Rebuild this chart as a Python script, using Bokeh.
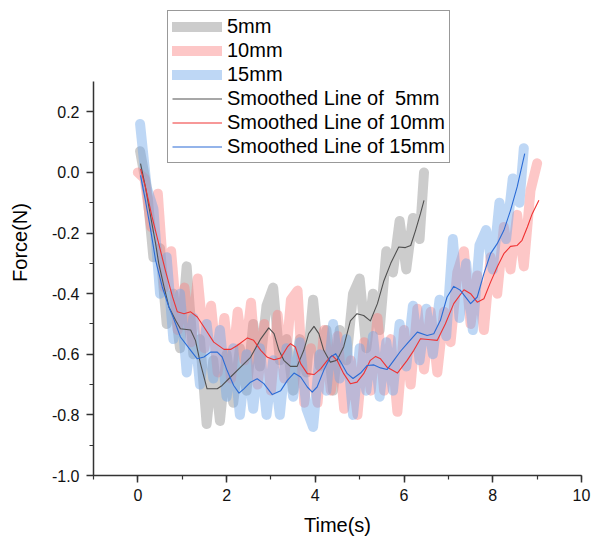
from bokeh.plotting import figure
from bokeh.models import Range1d, SingleIntervalTicker, PrintfTickFormatter, Legend, LegendItem
from bokeh.embed import file_html
from bokeh.resources import INLINE

# ---------------- data ----------------
t5 = [0.05, 0.20, 0.35, 0.50, 0.65, 0.80, 0.95, 1.10, 1.25, 1.40, 1.55, 1.70, 1.85, 2.00,
      2.15, 2.30, 2.45, 2.60, 2.75, 2.90, 3.05, 3.20, 3.35, 3.50, 3.65, 3.80, 3.95, 4.10,
      4.25, 4.40, 4.55, 4.70, 4.85, 5.00, 5.15, 5.30, 5.45, 5.60, 5.75, 5.90, 6.05, 6.20,
      6.35, 6.45]
f5 = [0.07, -0.05, -0.28, -0.25, -0.50, -0.40, -0.58, -0.31, -0.60, -0.55, -0.83, -0.62,
      -0.82, -0.60, -0.76, -0.58, -0.72, -0.50, -0.64, -0.44, -0.38, -0.62, -0.55, -0.72,
      -0.55, -0.66, -0.42, -0.64, -0.52, -0.72, -0.52, -0.62, -0.40, -0.35, -0.58, -0.40,
      -0.52, -0.26, -0.33, -0.16, -0.32, -0.15, -0.22, 0.00]

t10 = [0.00, 0.15, 0.30, 0.45, 0.60, 0.75, 0.90, 1.05, 1.20, 1.35, 1.50, 1.65, 1.80, 1.95,
       2.10, 2.25, 2.40, 2.55, 2.70, 2.85, 3.00, 3.15, 3.30, 3.45, 3.60, 3.75, 3.90, 4.05,
       4.20, 4.35, 4.50, 4.65, 4.80, 4.95, 5.10, 5.25, 5.40, 5.55, 5.70, 5.85, 6.00, 6.15,
       6.30, 6.45, 6.60, 6.75, 6.90, 7.05, 7.20, 7.35, 7.50, 7.65, 7.80, 7.95, 8.10, 8.25,
       8.40, 8.55, 8.70, 8.85, 9.00]
f10 = [0.00, -0.02, -0.18, -0.07, -0.38, -0.26, -0.52, -0.38, -0.56, -0.35, -0.58, -0.44,
       -0.66, -0.48, -0.68, -0.46, -0.62, -0.43, -0.70, -0.50, -0.72, -0.47, -0.68, -0.42,
       -0.39, -0.76, -0.58, -0.76, -0.52, -0.72, -0.54, -0.78, -0.62, -0.80, -0.56, -0.72,
       -0.48, -0.72, -0.55, -0.79, -0.52, -0.70, -0.45, -0.65, -0.46, -0.66, -0.46, -0.56,
       -0.33, -0.26, -0.50, -0.34, -0.52, -0.28, -0.40, -0.18, -0.32, -0.14, -0.31, -0.06,
       0.03]

t15 = [0.05, 0.20, 0.35, 0.50, 0.65, 0.80, 0.95, 1.10, 1.25, 1.40, 1.55, 1.70, 1.85, 2.00,
       2.15, 2.30, 2.45, 2.60, 2.75, 2.90, 3.05, 3.20, 3.35, 3.50, 3.65, 3.80, 3.95, 4.10,
       4.25, 4.40, 4.55, 4.70, 4.85, 5.00, 5.15, 5.30, 5.45, 5.60, 5.75, 5.90, 6.05, 6.20,
       6.35, 6.50, 6.65, 6.80, 6.95, 7.10, 7.25, 7.40, 7.55, 7.70, 7.85, 8.00, 8.15, 8.30,
       8.45, 8.60, 8.70]
f15 = [0.16, -0.05, -0.12, -0.40, -0.28, -0.55, -0.40, -0.66, -0.48, -0.70, -0.50, -0.68,
       -0.52, -0.74, -0.58, -0.80, -0.60, -0.78, -0.58, -0.80, -0.62, -0.80, -0.58, -0.74,
       -0.56, -0.78, -0.84, -0.60, -0.72, -0.50, -0.68, -0.55, -0.80, -0.58, -0.72, -0.54,
       -0.74, -0.56, -0.72, -0.50, -0.64, -0.44, -0.62, -0.45, -0.60, -0.42, -0.54, -0.22,
       -0.48, -0.30, -0.52, -0.24, -0.19, -0.32, -0.10, -0.22, -0.02, -0.10, 0.08]

# smoothed curves
st5 = [0.06, 0.17, 0.29, 0.40, 0.47, 0.59, 0.70, 0.85, 0.96, 1.19, 1.30, 1.41, 1.56, 1.79,
       1.90, 2.09, 2.31, 2.54, 2.77, 2.95, 3.07, 3.18, 3.29, 3.44, 3.59, 3.74, 3.85, 3.97,
       4.08, 4.19, 4.34, 4.49, 4.64, 4.79, 4.94, 5.09, 5.24, 5.40, 5.54, 5.70, 5.88, 6.03,
       6.15, 6.26, 6.37, 6.45]
sf5 = [0.029, -0.048, -0.147, -0.235, -0.300, -0.378, -0.444, -0.488, -0.516, -0.520,
       -0.555, -0.630, -0.714, -0.714, -0.703, -0.675, -0.643, -0.610, -0.549, -0.513,
       -0.532, -0.587, -0.620, -0.640, -0.640, -0.587, -0.532, -0.508, -0.532, -0.587,
       -0.626, -0.620, -0.575, -0.490, -0.466, -0.472, -0.490, -0.433, -0.360, -0.300,
       -0.246, -0.248, -0.241, -0.191, -0.136, -0.092]

st10 = [0.06, 0.17, 0.32, 0.47, 0.62, 0.78, 0.89, 1.04, 1.19, 1.34, 1.49, 1.71, 1.94, 2.09,
        2.24, 2.47, 2.61, 2.77, 2.92, 3.07, 3.22, 3.37, 3.44, 3.55, 3.67, 3.82, 3.97, 4.12,
        4.27, 4.38, 4.49, 4.64, 4.79, 4.94, 5.09, 5.24, 5.36, 5.47, 5.62, 5.85, 6.07, 6.22,
        6.37, 6.60, 6.75, 6.93, 7.12, 7.35, 7.50, 7.65, 7.80, 7.95, 8.10, 8.25, 8.40, 8.55,
        8.66, 8.78, 8.89, 9.04]
sf10 = [0.012, -0.048, -0.147, -0.235, -0.323, -0.410, -0.460, -0.466, -0.460, -0.477,
        -0.510, -0.560, -0.584, -0.584, -0.571, -0.546, -0.554, -0.587, -0.610, -0.618,
        -0.612, -0.576, -0.565, -0.576, -0.631, -0.664, -0.667, -0.648, -0.620, -0.604,
        -0.620, -0.664, -0.697, -0.692, -0.664, -0.620, -0.607, -0.615, -0.643, -0.662,
        -0.620, -0.587, -0.549, -0.552, -0.554, -0.500, -0.433, -0.387, -0.400, -0.428,
        -0.417, -0.362, -0.312, -0.268, -0.244, -0.241, -0.224, -0.180, -0.136, -0.092]

st15 = [0.06, 0.17, 0.29, 0.40, 0.55, 0.70, 0.80, 0.96, 1.19, 1.34, 1.49, 1.64, 1.79, 1.90,
        2.01, 2.16, 2.28, 2.39, 2.54, 2.69, 2.84, 3.03, 3.22, 3.37, 3.52, 3.67, 3.82, 3.93,
        4.04, 4.19, 4.34, 4.46, 4.57, 4.72, 4.85, 5.02, 5.17, 5.32, 5.47, 5.62, 5.77, 5.92,
        6.07, 6.30, 6.52, 6.67, 6.82, 6.97, 7.12, 7.27, 7.50, 7.65, 7.80, 7.95, 8.10, 8.25,
        8.40, 8.55, 8.72]
sf15 = [-0.010, -0.092, -0.191, -0.290, -0.378, -0.444, -0.480, -0.543, -0.587, -0.615,
        -0.609, -0.593, -0.593, -0.609, -0.653, -0.703, -0.728, -0.714, -0.692, -0.681,
        -0.697, -0.733, -0.720, -0.686, -0.662, -0.675, -0.708, -0.725, -0.708, -0.653,
        -0.609, -0.598, -0.625, -0.664, -0.680, -0.662, -0.637, -0.635, -0.645, -0.650,
        -0.620, -0.590, -0.565, -0.527, -0.538, -0.532, -0.488, -0.411, -0.376, -0.389,
        -0.433, -0.411, -0.334, -0.268, -0.235, -0.191, -0.125, -0.048, 0.062]

y_axis_min, y_axis_max = -1.0, 0.3

# ---------------- figure ----------------
FONT = "Liberation Sans"
# frame extends above the y axis so the legend (which sits above the axis top) is not clipped
p = figure(width=592, height=538, output_backend="svg", toolbar_location=None,
           x_range=Range1d(-1, 10), y_range=Range1d(y_axis_min, y_axis_max + 72 / 303.08),
           min_border_left=93, min_border_right=11, min_border_top=9, min_border_bottom=63,
           x_axis_label="Time(s)", y_axis_label="Force(N)")
p.outline_line_color = None
p.xgrid.visible = False
p.ygrid.visible = False
p.background_fill_color = "white"
p.border_fill_color = "white"

raw_gray = p.line(t5, f5, line_color="#8e8e8e", line_alpha=0.45, line_width=10,
                  line_cap="round", line_join="round")
raw_red = p.line(t10, f10, line_color="#fa8282", line_alpha=0.45, line_width=10,
                 line_cap="round", line_join="round")
raw_blue = p.line(t15, f15, line_color="#6fa7e9", line_alpha=0.45, line_width=10,
                  line_cap="round", line_join="round")
sm_gray = p.line(st5, sf5, line_color="#505050", line_width=1.1, line_join="round")
sm_red = p.line(st10, sf10, line_color="#f03232", line_width=1.1, line_join="round")
sm_blue = p.line(st15, sf15, line_color="#2a6bd6", line_width=1.1, line_join="round")

p.xaxis.ticker = SingleIntervalTicker(interval=2, num_minor_ticks=2)
p.yaxis.ticker = SingleIntervalTicker(interval=0.2, num_minor_ticks=2)
p.yaxis.formatter = PrintfTickFormatter(format="%.1f")
p.yaxis.bounds = (y_axis_min, y_axis_max)
for ax in (p.xaxis[0], p.yaxis[0]):
    ax.axis_line_color = "#333333"
    ax.axis_line_width = 1.5
    ax.major_tick_line_color = "#333333"
    ax.minor_tick_line_color = "#333333"
    ax.major_tick_line_width = 1.5
    ax.minor_tick_line_width = 1.2
    ax.major_tick_out = 7
    ax.major_tick_in = 0
    ax.minor_tick_out = 4
    ax.minor_tick_in = 0
    ax.major_label_text_font = FONT
    ax.major_label_text_font_size = "16px"
    ax.major_label_text_color = "#111111"
    ax.axis_label_text_font = FONT
    ax.axis_label_text_font_size = "20px"
    ax.axis_label_text_font_style = "normal"
    ax.axis_label_text_color = "#000000"
p.xaxis.major_label_standoff = 6
p.xaxis.axis_label_standoff = 10
p.yaxis.major_label_standoff = 7
p.yaxis.axis_label_standoff = 18

legend = Legend(items=[
    LegendItem(label="5mm", renderers=[raw_gray]),
    LegendItem(label="10mm", renderers=[raw_red]),
    LegendItem(label="15mm", renderers=[raw_blue]),
    LegendItem(label="Smoothed Line of  5mm", renderers=[sm_gray]),
    LegendItem(label="Smoothed Line of 10mm", renderers=[sm_red]),
    LegendItem(label="Smoothed Line of 15mm", renderers=[sm_blue]),
], location=(74, 312))
legend.label_text_font = FONT
legend.label_text_font_size = "20px"
legend.label_text_color = "#000000"
legend.glyph_width = 50
legend.glyph_height = 23
legend.label_height = 23
legend.spacing = 1
legend.padding = 4
legend.margin = 0
legend.label_standoff = 5
legend.border_line_color = "#333333"
legend.border_line_width = 1.2
legend.background_fill_color = "white"
legend.background_fill_alpha = 1.0
p.add_layout(legend, "center")

open("out.html", "w").write(file_html(p, INLINE))
